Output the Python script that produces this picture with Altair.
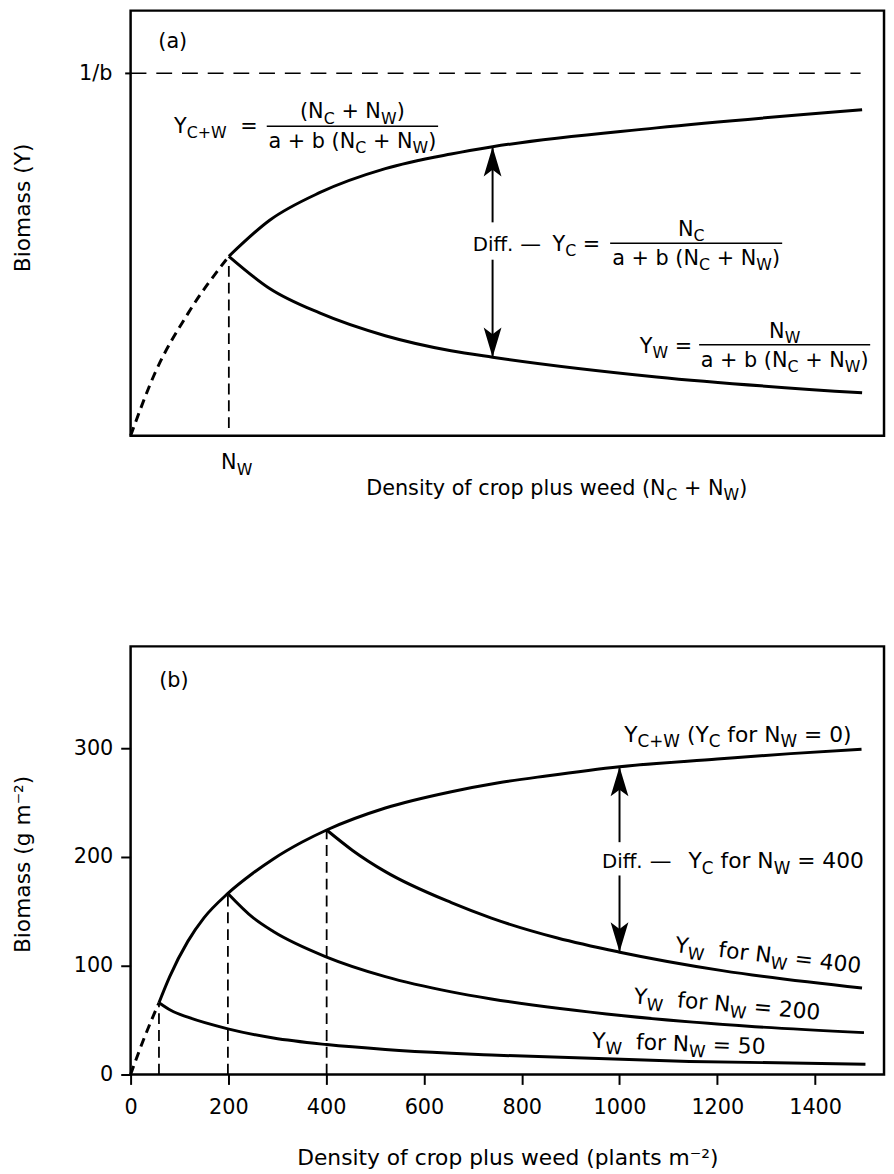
import math
import altair as alt
import pandas as pd

# ---------------- values ----------------
# Panel (a): schematic, relative units (0-100 on both axes)
A_DASH_X = [0, 3.2, 7.6, 13.0]
A_DASH_Y = [0, 14.5, 28.5, 41.8]
A_TOTAL_X = [13.0, 18.4, 25.0, 33.7, 42.4, 47.9, 69.6, 96.8]
A_TOTAL_Y = [41.8, 50.2, 56.6, 62.2, 65.6, 67.3, 71.7, 75.9]
A_WEED_X = [13.0, 18.4, 25.0, 33.7, 42.4, 47.9, 69.6, 96.8]
A_WEED_Y = [41.8, 34.3, 28.6, 23.3, 19.8, 18.3, 13.7, 10.0]
A_ASYMPTOTE = 84.4          # 1/b
A_ASYM_END = 96.6
A_NW = 13.0
A_NW_LINE = [1.8, 40.3]
A_ARROW_X = 47.9
A_ARROW_TIPS = [67.3, 18.3]
A_ARROW_GAP = [49.7, 41.0]

# Panel (b): density (plants m-2) and biomass (g m-2)
B_DASH_X = [0, 26, 58]
B_DASH_Y = [0, 31.5, 66]
B_TOTAL_X = [58, 80, 117, 150, 199, 250, 292, 350, 401, 521, 656, 750, 850, 1000, 1200, 1350, 1495]
B_TOTAL_Y = [66, 90, 122.4, 144, 166.5, 185, 198.2, 213.5, 224.8, 245, 260, 268, 274.5, 283, 290, 295, 299]
B_W400_X = [401, 454, 521, 656, 738, 873, 998, 1210, 1496]
B_W400_Y = [224.8, 206, 186.5, 158, 143.8, 125.5, 112.7, 95.5, 79.5]
B_W200_X = [199, 251, 292, 401, 521, 656, 738, 1008, 1277, 1500]
B_W200_Y = [166.5, 144, 131.5, 108, 90, 76, 69.5, 54, 44, 38.5]
B_W50_X = [58, 83, 117, 199, 292, 401, 521, 656, 738, 1143, 1503]
B_W50_Y = [66, 58.8, 52.7, 42, 33.5, 27.5, 23, 19.5, 17.9, 12, 9.5]
B_NW = [58, 199, 401]
B_NW_TOP = [66, 166.5, 225]
B_ARROW_X = 1000
B_ARROW_TIPS = [283, 112.7]
B_ARROW_GAP = [213.6, 183]
B_XTICKS = [0, 200, 400, 600, 800, 1000, 1200, 1400]
B_YTICKS = [0, 100, 200, 300]

# ---------------- layout ----------------
FONT = "DejaVu Sans"
W_PLOT = 762
A_H, B_H = 430, 433
A_XDOM, A_YDOM = [0, 99.7], [0, 99.0]
B_XDOM, B_YDOM = [0, 1541], [0, 393.6]
LEFT, A_BOTTOM, B_BOTTOM = 129, 438, 1078

def a_pos(px, py):
    return ((px - LEFT) * A_XDOM[1] / W_PLOT, (A_BOTTOM - py) * A_YDOM[1] / A_H)

def b_pos(px, py):
    return ((px - LEFT) * B_XDOM[1] / W_PLOT, (B_BOTTOM - py) * B_YDOM[1] / B_H)

# DejaVu Sans advance widths (1/2048 em) for laying out sub-scripted labels
ADV = {' ': 651, '(': 799, ')': 799, '+': 1716, '-': 739, '.': 651, '/': 690,
       '=': 1716, '\u2014': 2048, 'A': 1401, 'B': 1405, 'C': 1430, 'D': 1577,
       'N': 1540, 'W': 2025, 'Y': 1251, 'a': 1255, 'b': 1300, 'c': 1126,
       'd': 1300, 'e': 1260, 'f': 721, 'g': 1300, 'i': 569, 'l': 569,
       'm': 1995, 'n': 1298, 'o': 1253, 'p': 1300, 'r': 842, 's': 1067,
       't': 803, 'u': 1298, 'w': 1675, 'y': 1212}
for d in '0123456789':
    ADV[d] = 1303

def tw(s, size):
    return sum(ADV.get(c, 1250) for c in s) / 2048 * size

def rich(parts, x0, y0, size, sub, angle=0, anchor='left'):
    total = sum(tw(t, sub if s else size) for t, s in parts)
    if anchor == 'center':
        x0 -= total / 2
    th = math.radians(angle)
    c, s_ = math.cos(th), math.sin(th)
    out, adv = [], 0.0
    for t, is_sub in parts:
        fs = sub if is_sub else size
        lead = len(t) - len(t.lstrip(' '))
        off = adv + tw(' ' * lead, fs)
        shift = size * 0.25 if is_sub else 0
        out.append((x0 + off * c - shift * s_, y0 + off * s_ + shift * c, t.strip(), fs, angle))
        adv += tw(t, fs)
    return out

def to_df(pieces, conv):
    rows = []
    for px, py, t, fs, ang in pieces:
        x, y = conv(px, py)
        rows.append({'x': x, 'y': y, 't': t, 's': fs, 'ang': ang})
    return pd.DataFrame(rows)

# ---------------- panel (a) text ----------------
frac = [("(N", 0), ("C", 1), (" + N", 0), ("W", 1), (")", 0)]
den = [("a + b (N", 0), ("C", 1), (" + N", 0), ("W", 1), (")", 0)]
A_BARS = [(266.7, 440, 125), (614, 788, 243.3), (704, 877, 346)]
a_txt = []
a_txt += rich([("(a)", 0)], 157, 46, 21, 16)
a_txt += rich([("Y", 0), ("C+W", 1)], 173, 132, 21, 16)
a_txt += rich([("=", 0)], 240, 132, 21, 16)
a_txt += rich(frac, 353.3, 117, 21, 16, anchor='center')
a_txt += rich(den, 353.3, 147, 21, 16, anchor='center')
a_txt += rich([("Diff.", 0)], 475, 251, 20, 15)
a_txt += rich([("\u2014", 0)], 523, 251, 21, 16)
a_txt += rich([("Y", 0), ("C", 1), (" =", 0)], 555.7, 251, 21, 16)
a_txt += rich([("N", 0), ("C", 1)], 696, 236, 21, 16, anchor='center')
a_txt += rich(den, 701, 265.5, 21, 16, anchor='center')
a_txt += rich([("Y", 0), ("W", 1), (" =", 0)], 644, 354, 21, 16)
a_txt += rich([("N", 0), ("W", 1)], 790.5, 339, 21, 16, anchor='center')
a_txt += rich(den, 790.5, 368, 21, 16, anchor='center')
a_txt += rich([("N", 0), ("W", 1)], 220.5, 472, 21, 16)
a_txt += rich([("Density of crop plus weed (N", 0), ("C", 1), (" + N", 0), ("W", 1), (")", 0)],
              560, 498, 21, 16, anchor='center')
A_TEXT = to_df(a_txt, a_pos)

# ---------------- panel (b) text ----------------
lab_w = lambda n: [("Y", 0), ("W", 1), ("  for N", 0), ("W", 1), (" = " + n, 0)]
b_txt = []
b_txt += rich([("(b)", 0)], 158, 686, 21, 16)
b_txt += rich([("Y", 0), ("C+W", 1), (" (Y", 0), ("C", 1), (" for N", 0), ("W", 1), (" = 0)", 0)],
              628.3, 741.7, 22, 17)
b_txt += rich([("Diff.", 0)], 605.7, 869.3, 20, 15)
b_txt += rich([("\u2014", 0)], 654, 869.3, 22, 17)
b_txt += rich([("Y", 0), ("C", 1), (" for N", 0), ("W", 1), (" = 400", 0)], 693.3, 869.3, 22, 17)
b_txt += rich(lab_w("400"), 679, 954, 22, 17, angle=6.5)
b_txt += rich(lab_w("200"), 637.3, 1006, 22, 17, angle=5)
b_txt += rich(lab_w("50"), 595.7, 1051, 22, 17, angle=2)
B_TEXT = to_df(b_txt, b_pos)

# ---------------- helpers ----------------
def enc(xdom, ydom, xaxis, yaxis):
    X = alt.X('x:Q', scale=alt.Scale(domain=xdom, nice=False, zero=False), axis=xaxis)
    Y = alt.Y('y:Q', scale=alt.Scale(domain=ydom, nice=False, zero=False), axis=yaxis)
    return X, Y

UP = "M0,0 L0.6,2 L0,1.55 L-0.6,2 Z"
DOWN = "M0,0 L0.6,-2 L0,-1.55 L-0.6,-2 Z"

def line(xs, ys, X, Y, **kw):
    return alt.Chart(pd.DataFrame({'x': xs, 'y': ys})).mark_line(
        color='black', interpolate='monotone', **kw).encode(x=X, y=Y)

def build(X, Y, curves, dash, vl, arrow, bars, text, extra=None):
    layers = []
    for xs, ys in curves:
        layers.append(line(xs, ys, X, Y, strokeWidth=3))
    layers.append(line(dash[0], dash[1], X, Y, strokeWidth=3, strokeDash=[9, 6]))
    layers.append(alt.Chart(pd.DataFrame(vl)).mark_rule(
        color='black', strokeWidth=1.8, strokeDash=[11, 6]).encode(x=X, y=Y, y2='y2:Q'))
    ax, tips, gap = arrow
    layers.append(alt.Chart(pd.DataFrame({'x': [ax, ax], 'y': [tips[0], gap[1]], 'y2': [gap[0], tips[1]]}))
                  .mark_rule(color='black', strokeWidth=2).encode(x=X, y=Y, y2='y2:Q'))
    layers.append(alt.Chart(pd.DataFrame({'x': [ax], 'y': [tips[0]]})).mark_point(
        shape=UP, filled=True, size=900, color='black', opacity=1, strokeWidth=0).encode(x=X, y=Y))
    layers.append(alt.Chart(pd.DataFrame({'x': [ax], 'y': [tips[1]]})).mark_point(
        shape=DOWN, filled=True, size=900, color='black', opacity=1, strokeWidth=0).encode(x=X, y=Y))
    if bars is not None:
        layers.append(alt.Chart(bars).mark_rule(color='black', strokeWidth=1.6).encode(x=X, x2='x2:Q', y=Y))
    if extra is not None:
        layers.append(extra)
    layers.append(alt.Chart(text).mark_text(align='left', baseline='alphabetic', color='black', font=FONT)
                  .encode(x=X, y=Y, text='t:N', size=alt.Size('s:Q', scale=None),
                          angle=alt.Angle('ang:Q', scale=None)))
    return alt.layer(*layers)

# ---------------- panel (a) ----------------
XA, YA = enc(A_XDOM, A_YDOM, None,
             alt.Axis(values=[A_ASYMPTOTE], labelExpr="'1/b'", tickSize=6, labelPadding=13,
                      title='Biomass (Y)', titleX=-97, titleY=199, labelFlush=False))
bar_rows = []
for x1, x2, yy in A_BARS:
    p1 = a_pos(x1, yy)
    p2 = a_pos(x2, yy)
    bar_rows.append({'x': p1[0], 'x2': p2[0], 'y': p1[1]})
asym = alt.Chart(pd.DataFrame({'x': [0], 'x2': [A_ASYM_END], 'y': [A_ASYMPTOTE]})).mark_rule(
    color='black', strokeWidth=1.5, strokeDash=[16, 10]).encode(x=XA, x2='x2:Q', y=YA)
panel_a = build(XA, YA, [(A_TOTAL_X, A_TOTAL_Y), (A_WEED_X, A_WEED_Y)], (A_DASH_X, A_DASH_Y),
                {'x': [A_NW], 'y': [A_NW_LINE[0]], 'y2': [A_NW_LINE[1]]},
                (A_ARROW_X, A_ARROW_TIPS, A_ARROW_GAP), pd.DataFrame(bar_rows), A_TEXT,
                extra=asym).properties(width=W_PLOT, height=A_H)

# ---------------- panel (b) ----------------
XB, YB = enc(B_XDOM, B_YDOM,
             alt.Axis(values=B_XTICKS, format='d', tickSize=10, labelPadding=12, labelFlush=False,
                      title='Density of crop plus weed (plants m\u207b\u00b2)', titleY=74),
             alt.Axis(values=B_YTICKS, format='d', tickSize=10, labelPadding=8, labelFlush=False,
                      title='Biomass (g m\u207b\u00b2)', titleX=-97, titleY=220))
panel_b = build(XB, YB, [(B_TOTAL_X, B_TOTAL_Y), (B_W400_X, B_W400_Y), (B_W200_X, B_W200_Y),
                         (B_W50_X, B_W50_Y)], (B_DASH_X, B_DASH_Y),
                {'x': B_NW, 'y': [0, 0, 0], 'y2': B_NW_TOP},
                (B_ARROW_X, B_ARROW_TIPS, B_ARROW_GAP), None, B_TEXT).properties(width=W_PLOT, height=B_H)

chart = alt.vconcat(panel_a, panel_b, spacing=213, bounds='flush').properties(
    padding={'left': 2, 'top': -6, 'right': 0, 'bottom': 0}
).configure(font=FONT).configure_view(stroke='black', strokeWidth=2.5).configure_axis(
    domain=False, grid=False, labelColor='black', titleColor='black', tickColor='black',
    tickWidth=2, labelFontSize=21, titleFontSize=22, titleFontWeight='normal', labelFont=FONT,
    titleFont=FONT)

chart.save("out.html", embed_options={"renderer": "svg", "actions": False})
